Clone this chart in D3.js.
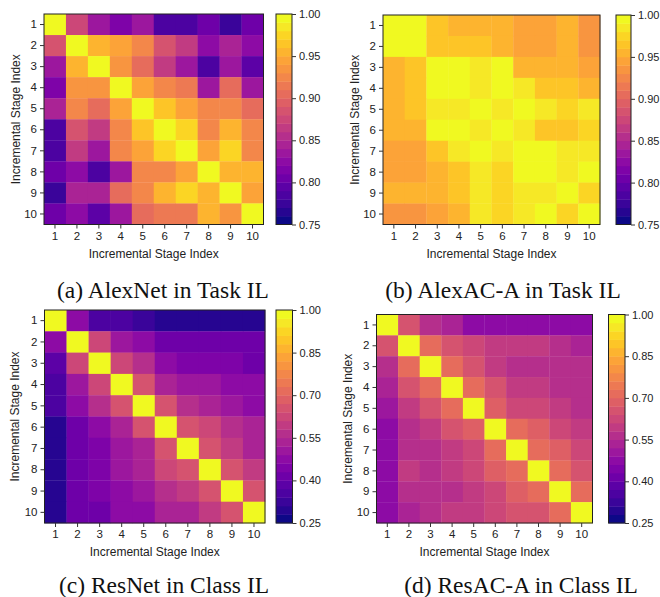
<!DOCTYPE html>
<html><head><meta charset="utf-8">
<script src="https://cdn.jsdelivr.net/npm/d3@7"></script>
<style>
html,body{margin:0;padding:0;background:#fff;}
svg{display:block;}
</style></head>
<body>
<svg id="chart" width="660" height="597"></svg>
<script>
const stages = ["1","2","3","4","5","6","7","8","9","10"];
const captions = ["(a) AlexNet in Task IL","(b) AlexAC-A in Task IL","(c) ResNet in Class IL","(d) ResAC-A in Class IL"];
const ticksTask = [0.75,0.80,0.85,0.90,0.95,1.00];
const ticksClass = [0.25,0.40,0.55,0.70,0.85,1.00];

const alexNetTask = [
 [1.00,0.875,0.83,0.815,0.835,0.785,0.785,0.80,0.775,0.80],
 [0.88,1.00,0.95,0.94,0.925,0.885,0.86,0.825,0.845,0.82],
 [0.83,0.95,1.00,0.935,0.905,0.865,0.835,0.785,0.835,0.795],
 [0.815,0.935,0.935,1.00,0.94,0.925,0.915,0.83,0.905,0.835],
 [0.84,0.925,0.90,0.94,1.00,0.96,0.94,0.92,0.925,0.90],
 [0.785,0.885,0.865,0.925,0.96,1.00,0.97,0.925,0.95,0.92],
 [0.785,0.86,0.835,0.92,0.94,0.97,1.00,0.94,0.97,0.92],
 [0.80,0.82,0.785,0.83,0.92,0.925,0.94,1.00,0.95,0.95],
 [0.775,0.845,0.84,0.905,0.925,0.95,0.97,0.95,1.00,0.94],
 [0.805,0.82,0.795,0.835,0.905,0.915,0.915,0.95,0.935,1.00]
];
const alexACTask = [
 [1.00,1.00,0.965,0.955,0.955,0.955,0.945,0.945,0.955,0.935],
 [1.00,1.00,0.965,0.965,0.965,0.955,0.945,0.945,0.955,0.935],
 [0.955,0.965,1.00,1.00,0.985,1.00,0.955,0.955,0.955,0.945],
 [0.955,0.965,1.00,1.00,0.985,1.00,0.985,0.965,0.965,0.955],
 [0.955,0.965,0.985,0.985,1.00,0.985,1.00,0.985,0.975,0.985],
 [0.955,0.955,1.00,1.00,0.985,1.00,0.985,0.965,0.965,0.975],
 [0.945,0.945,0.965,0.985,1.00,0.985,1.00,1.00,0.985,0.985],
 [0.945,0.945,0.955,0.965,0.985,0.975,1.00,1.00,0.985,1.00],
 [0.955,0.955,0.955,0.965,0.985,0.975,0.985,0.985,1.00,0.975],
 [0.935,0.935,0.945,0.955,0.985,0.975,0.985,1.00,0.975,1.00]
];
const resNetClass = [
 [1.00,0.46,0.35,0.34,0.32,0.30,0.30,0.30,0.30,0.30],
 [0.46,1.00,0.625,0.51,0.48,0.42,0.42,0.41,0.41,0.41],
 [0.37,0.625,1.00,0.625,0.55,0.46,0.44,0.45,0.45,0.42],
 [0.36,0.49,0.625,1.00,0.645,0.54,0.49,0.49,0.48,0.46],
 [0.34,0.48,0.55,0.645,1.00,0.645,0.55,0.53,0.50,0.48],
 [0.30,0.42,0.46,0.54,0.645,1.00,0.65,0.61,0.56,0.53],
 [0.30,0.42,0.44,0.49,0.54,0.645,1.00,0.65,0.58,0.53],
 [0.30,0.41,0.44,0.49,0.52,0.61,0.645,1.00,0.65,0.58],
 [0.30,0.41,0.44,0.48,0.50,0.56,0.59,0.65,1.00,0.65],
 [0.30,0.41,0.42,0.46,0.48,0.54,0.54,0.59,0.65,1.00]
];
const resACClass = [
 [1.00,0.645,0.55,0.53,0.48,0.46,0.46,0.46,0.46,0.46],
 [0.645,1.00,0.72,0.66,0.61,0.58,0.58,0.58,0.56,0.53],
 [0.55,0.72,1.00,0.70,0.65,0.60,0.57,0.57,0.555,0.555],
 [0.53,0.66,0.70,1.00,0.70,0.65,0.59,0.59,0.57,0.57],
 [0.50,0.60,0.65,0.70,1.00,0.68,0.62,0.62,0.60,0.57],
 [0.47,0.57,0.59,0.65,0.675,1.00,0.70,0.675,0.61,0.59],
 [0.47,0.57,0.57,0.59,0.615,0.70,1.00,0.72,0.675,0.62],
 [0.47,0.58,0.57,0.59,0.62,0.675,0.72,1.00,0.70,0.65],
 [0.47,0.555,0.555,0.57,0.59,0.62,0.675,0.70,1.00,0.70],
 [0.47,0.53,0.55,0.58,0.58,0.61,0.65,0.665,0.70,1.00]
];

const panels = [
 {data: alexNetTask, ticks: ticksTask, hm:[44,263.5,14,224.5], cb:[276,292], ylab:16, cap:[163,290]},
 {data: alexACTask, ticks: ticksTask, hm:[383,600,15,224.5], cb:[616,631], ylab:355, cap:[503,290]},
 {data: resNetClass, ticks: ticksClass, hm:[44.5,265,310,523], cb:[276,292.5], ylab:15, cap:[164,585]},
 {data: resACClass, ticks: ticksClass, hm:[376.5,592.5,314.5,523], cb:[608.5,625], ylab:348, cap:[521,585]}
];

const N = 25;
function makeColor(lo, hi){
  return v => {
    let t = (v - lo) / (hi - lo);
    let i = Math.floor(t * N + 1e-9);
    i = Math.max(0, Math.min(N - 1, i));
    return d3.interpolatePlasma(i / (N - 1));
  };
}

const svg = d3.select("#chart");
const sans = "Liberation Sans, Arial, sans-serif";
const serif = "Liberation Serif, Times New Roman, serif";

panels.forEach((p, k) => {
  const [x0,x1,y0,y1] = p.hm;
  const lo = p.ticks[0], hi = p.ticks[p.ticks.length-1];
  const color = makeColor(lo, hi);
  const x = d3.scaleBand().domain(stages).range([x0,x1]);
  const y = d3.scaleBand().domain(stages).range([y0,y1]);
  const g = svg.append("g");
  p.data.forEach((row, r) => {
    row.forEach((v, c) => {
      g.append("rect")
        .attr("x", x(stages[c])).attr("y", y(stages[r]))
        .attr("width", x.bandwidth()+0.3).attr("height", y.bandwidth()+0.3)
        .attr("fill", color(v));
    });
  });
  g.append("rect").attr("x",x0).attr("y",y0).attr("width",x1-x0).attr("height",y1-y0)
    .attr("fill","none").attr("stroke","#222").attr("stroke-width",1);

  const xa = svg.append("g").attr("transform",`translate(0,${y1})`)
    .call(d3.axisBottom(x).tickSize(4).tickPadding(3));
  const ya = svg.append("g").attr("transform",`translate(${x0},0)`)
    .call(d3.axisLeft(y).tickSize(4).tickPadding(3));
  [xa,ya].forEach(a => {
    a.select(".domain").remove();
    a.selectAll("line").attr("stroke","#333").attr("stroke-width",1);
    a.selectAll("text").attr("font-family",sans).attr("font-size","11.5px").attr("fill","#222");
  });

  svg.append("text").attr("x",(x0+x1)/2).attr("y",y1+33)
    .attr("text-anchor","middle").attr("font-family",sans).attr("font-size","12px").attr("fill","#222")
    .text("Incremental Stage Index");
  svg.append("text").attr("transform",`translate(${p.ylab},${(y0+y1)/2}) rotate(-90)`)
    .attr("text-anchor","middle").attr("dominant-baseline","central")
    .attr("font-family",sans).attr("font-size","12px").attr("fill","#222")
    .text("Incremental Stage Index");

  // colorbar
  const [c0,c1] = p.cb;
  const cy = d3.scaleLinear().domain([lo,hi]).range([y1,y0]);
  const step = (hi-lo)/N;
  const bands = d3.range(N).map(i => lo + i*step);
  svg.append("g").selectAll("rect").data(bands).join("rect")
    .attr("x",c0).attr("width",c1-c0)
    .attr("y", d => cy(d+step)).attr("height", d => cy(d)-cy(d+step)+0.4)
    .attr("fill", (d,i) => d3.interpolatePlasma(i/(N-1)));
  svg.append("rect").attr("x",c0).attr("y",y0).attr("width",c1-c0).attr("height",y1-y0)
    .attr("fill","none").attr("stroke","#222").attr("stroke-width",1);
  const ca = svg.append("g").attr("transform",`translate(${c1},0)`)
    .call(d3.axisRight(cy).tickValues(p.ticks).tickFormat(d3.format(".2f")).tickSize(4).tickPadding(3));
  ca.select(".domain").remove();
  ca.selectAll("line").attr("stroke","#333");
  ca.selectAll("text").attr("font-family",sans).attr("font-size","11px").attr("fill","#222");

  svg.append("text").attr("x",p.cap[0]).attr("y",p.cap[1]).attr("text-anchor","middle")
    .attr("dominant-baseline","central").attr("font-family",serif).attr("font-size","23.5px").attr("fill","#111")
    .text(captions[k]);
});
</script>
</body></html>
